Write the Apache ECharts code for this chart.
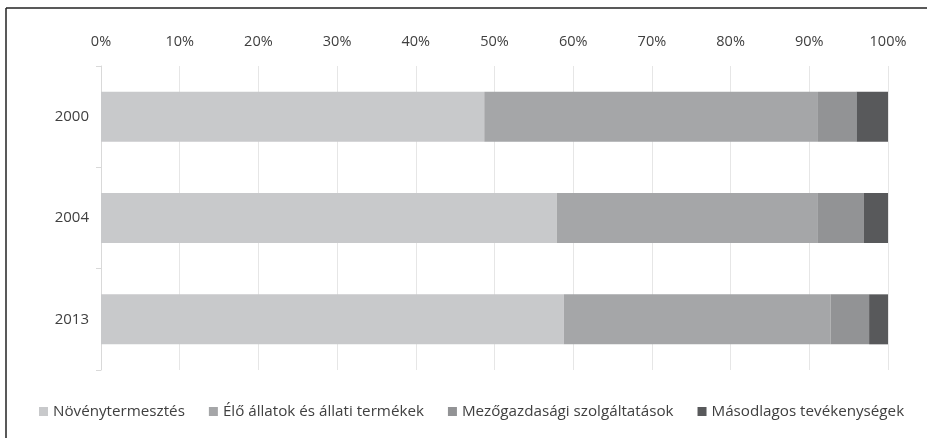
<!DOCTYPE html>
<html>
<head>
<meta charset="utf-8">
<script src="https://cdn.jsdelivr.net/npm/echarts@6/dist/echarts.min.js"></script>
<style>
  html, body { margin: 0; padding: 0; background: #fff; }
  #chart { width: 927px; height: 438px; }
</style>
</head>
<body>
<div id="chart"></div>
<script>
// years, top to bottom
const years = ['2000', '2004', '2013']
const seriesNames = ['Növénytermesztés', 'Élő állatok és állati termékek', 'Mezőgazdasági szolgáltatások', 'Másodlagos tevékenységek']
const novenyt = [48.7, 57.9, 58.8]
const allatok = [42.4, 33.2, 33.9]
const szolg = [4.9, 5.8, 4.9]
const masodl = [4.0, 3.1, 2.4]
const colors = ['#c8c9cb', '#a5a6a8', '#929395', '#58595b']

let mychart = echarts.init(document.getElementById('chart'))
let values = [novenyt, allatok, szolg, masodl]

mychart.setOption({
  animation: false,
  grid: { left: 101, right: 39, top: 66, bottom: 68 },
  legend: {
    left: 34,
    top: 399,
    itemWidth: 9,
    itemHeight: 9,
    itemGap: 24,
    icon: 'rect',
    textStyle: { color: '#404040', fontSize: 15.2, fontFamily: 'Open Sans' },
    data: seriesNames,
  },
  xAxis: {
    type: 'value',
    position: 'top',
    min: 0,
    max: 100,
    interval: 10,
    axisLine: { show: false },
    axisTick: { show: false },
    splitLine: { show: true, lineStyle: { color: '#e6e6e6', width: 1 } },
    axisLabel: {
      formatter: '{value}%',
      color: '#404040',
      fontSize: 14.5,
      fontFamily: 'Open Sans',
      margin: 17,
    },
  },
  yAxis: {
    type: 'category',
    inverse: true,
    data: years,
    axisLine: { show: true, lineStyle: { color: '#d9d9d9' } },
    axisTick: { show: true, length: 5, lineStyle: { color: '#d9d9d9' } },
    axisLabel: { color: '#404040', fontSize: 15, fontFamily: 'Open Sans', margin: 12 },
  },
  series: seriesNames.map((name, i) => ({
    name: name,
    type: 'bar',
    stack: 'total',
    barWidth: 50,
    data: values[i],
    itemStyle: { color: colors[i] },
  })),
  graphic: [
    { type: 'line', shape: { x1: 6, y1: 8, x2: 927, y2: 8 }, style: { stroke: '#222', lineWidth: 1.5 } },
    { type: 'line', shape: { x1: 6, y1: 8, x2: 6, y2: 438 }, style: { stroke: '#222', lineWidth: 1.5 } },
  ],
})
</script>
</body>
</html>
